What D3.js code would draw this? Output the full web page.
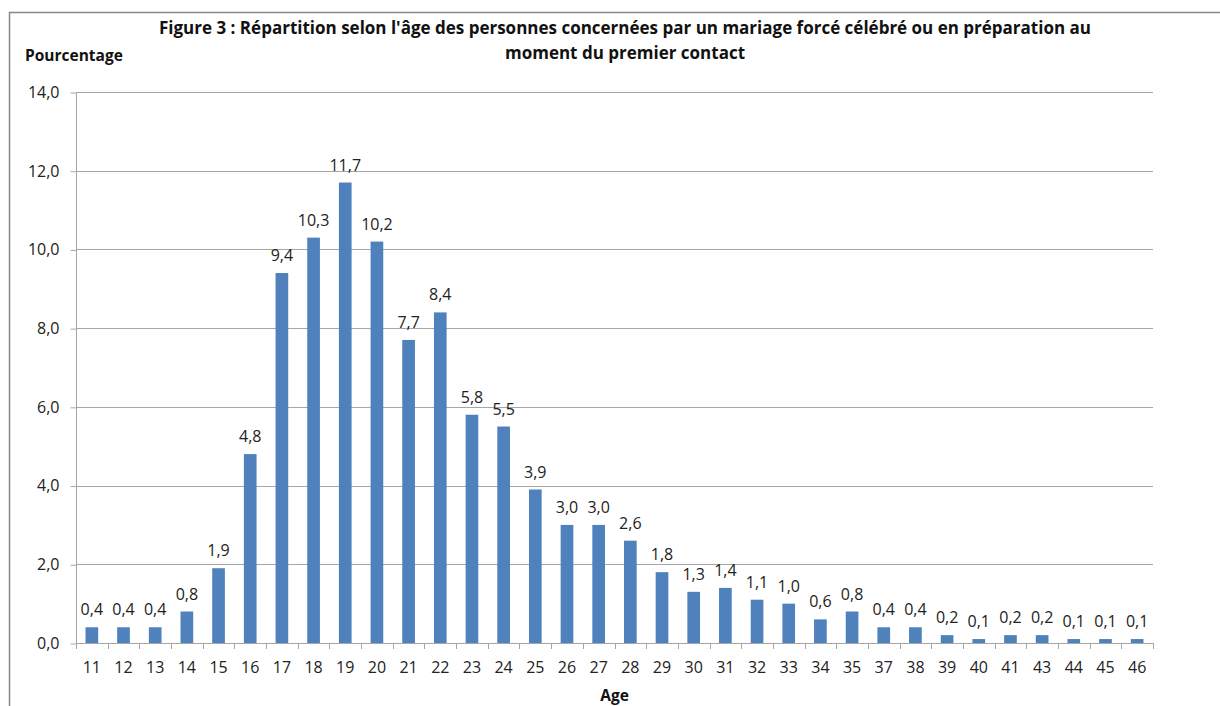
<!DOCTYPE html>
<html>
<head>
<meta charset="utf-8">
<script src="https://cdn.jsdelivr.net/npm/d3@7"></script>
<style>
  body { margin: 0; background: #fff; }
  svg { display: block; font-family: "Open Sans", sans-serif; }
</style>
</head>
<body>
<div id="chart"></div>
<script>
// data
var ages = ["11","12","13","14","15","16","17","18","19","20","21","22","23","24","25","26","27","28","29","30","31","32","33","34","35","37","38","39","40","41","43","44","45","46"];
var percents = [0.4,0.4,0.4,0.8,1.9,4.8,9.4,10.3,11.7,10.2,7.7,8.4,5.8,5.5,3.9,3.0,3.0,2.6,1.8,1.3,1.4,1.1,1.0,0.6,0.8,0.4,0.4,0.2,0.1,0.2,0.2,0.1,0.1,0.1];
var yTicks = [0, 2, 4, 6, 8, 10, 12, 14];
var titleLines = ["Figure 3 : Répartition selon l'âge des personnes concernées par un mariage forcé célébré ou en préparation au",
                  "moment du premier contact"];

var width = 1220, height = 706;
var plotLeft = 76, plotRight = 1153, plotTop = 92, plotBottom = 643;

var fmt = function (v) { return v.toFixed(1).replace(".", ","); };

var svg = d3.select("#chart").append("svg")
  .attr("width", width)
  .attr("height", height);

// outer frame (only top and left visible)
svg.append("path")
  .attr("d", "M9.5," + height + "V12.5H" + width)
  .attr("fill", "none")
  .attr("stroke", "#878787")
  .attr("stroke-width", 1.5);

var x = d3.scaleBand()
  .domain(ages)
  .range([plotLeft, plotRight])
  .paddingInner(0.6)
  .paddingOuter(0.3);

var y = d3.scaleLinear().domain([0, 14]).range([plotBottom, plotTop]);

// gridlines
svg.append("g")
  .selectAll("line")
  .data(yTicks.slice(1))
  .enter()
  .append("line")
  .attr("x1", plotLeft)
  .attr("x2", plotRight)
  .attr("y1", function (d) { return Math.round(y(d)) + 0.5; })
  .attr("y2", function (d) { return Math.round(y(d)) + 0.5; })
  .attr("stroke", "#a6a6a6");

// y axis
var yAxis = svg.append("g")
  .attr("transform", "translate(" + (plotLeft + 0.5) + ",0.5)")
  .call(d3.axisLeft(y).tickValues(yTicks).tickFormat(fmt).tickSize(6).tickPadding(11));
yAxis.select(".domain").attr("stroke", "#a6a6a6").attr("d", "M0," + plotTop + "V" + plotBottom);
yAxis.selectAll(".tick line").attr("stroke", "#a6a6a6");
yAxis.selectAll(".tick text")
  .attr("fill", "#222")
  .attr("dy", "0.3em")
  .style("font-size", "16px")
  .style("font-family", "'Open Sans', sans-serif");

// bars
svg.append("g")
  .selectAll("rect")
  .data(percents)
  .enter()
  .append("rect")
  .attr("x", function (d, i) { return x(ages[i]); })
  .attr("width", x.bandwidth())
  .attr("y", function (d) { return y(d); })
  .attr("height", function (d) { return y(0) - y(d); })
  .attr("fill", "#4f81bd");

// x axis line
svg.append("line")
  .attr("x1", plotLeft)
  .attr("x2", plotRight)
  .attr("y1", Math.round(y(0)) + 0.5)
  .attr("y2", Math.round(y(0)) + 0.5)
  .attr("stroke", "#a6a6a6");

// x tick marks between categories
var step = x.step();
svg.append("g")
  .selectAll("line")
  .data(d3.range(ages.length + 1))
  .enter()
  .append("line")
  .attr("x1", function (i) { return Math.round(plotLeft + i * step) + 0.5; })
  .attr("x2", function (i) { return Math.round(plotLeft + i * step) + 0.5; })
  .attr("y1", plotBottom)
  .attr("y2", plotBottom + 6)
  .attr("stroke", "#a6a6a6");

// x labels
svg.append("g")
  .selectAll("text")
  .data(ages)
  .enter()
  .append("text")
  .attr("x", function (d) { return x(d) + x.bandwidth() / 2; })
  .attr("y", 673)
  .attr("text-anchor", "middle")
  .attr("fill", "#222")
  .style("font-size", "16px")
  .text(function (d) { return d; });

// value labels
svg.append("g")
  .selectAll("text")
  .data(percents)
  .enter()
  .append("text")
  .attr("x", function (d, i) { return x(ages[i]) + x.bandwidth() / 2; })
  .attr("y", function (d) { return y(d) - 12; })
  .attr("text-anchor", "middle")
  .attr("fill", "#222")
  .style("font-size", "16px")
  .text(fmt);

// title
svg.append("g")
  .selectAll("text")
  .data(titleLines)
  .enter()
  .append("text")
  .attr("x", 625)
  .attr("y", function (d, i) { return 34 + i * 25; })
  .attr("text-anchor", "middle")
  .attr("font-weight", "bold")
  .attr("fill", "#111")
  .style("font-size", "17px")
  .text(function (d) { return d; });

svg.append("text")
  .attr("x", 25)
  .attr("y", 61)
  .attr("font-weight", "bold")
  .attr("fill", "#111")
  .style("font-size", "15.5px")
  .text("Pourcentage");

svg.append("text")
  .attr("x", (plotLeft + plotRight) / 2)
  .attr("y", 701)
  .attr("text-anchor", "middle")
  .attr("font-weight", "bold")
  .attr("fill", "#111")
  .style("font-size", "15.5px")
  .text("Age");
</script>
</body>
</html>
